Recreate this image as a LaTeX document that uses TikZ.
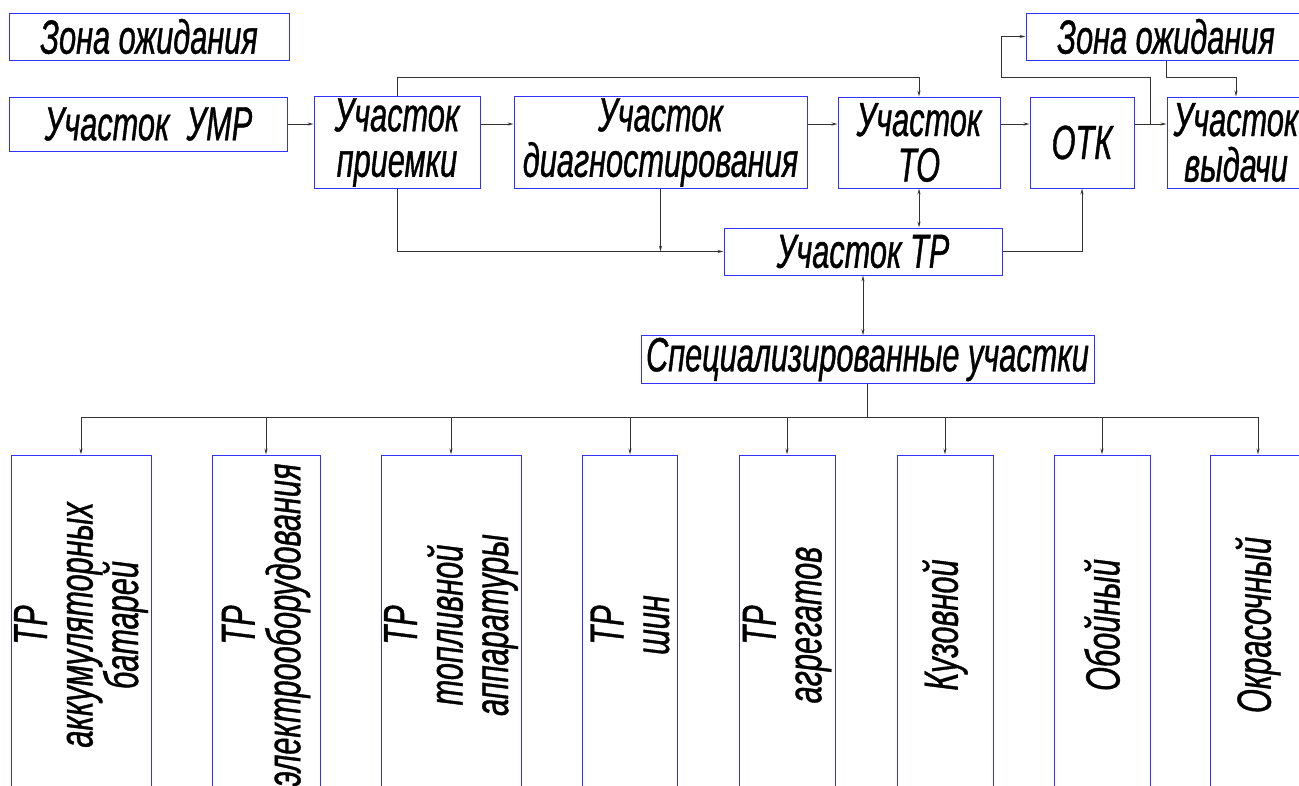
\documentclass[tikz,border=0pt]{standalone}
\usepackage{fontspec}
\newfontfamily\gost{Liberation Sans}[FakeStretch=0.64,FakeBold=0.8]
\usetikzlibrary{arrows.meta}
\definecolor{frameblue}{RGB}{50,50,255}
\tikzset{
  blk/.style={draw=frameblue,line width=1pt,inner sep=2pt,align=center,
    font=\gost\itshape\fontsize{48}{45.5}\selectfont},
  col/.style={blk,rotate=90,minimum width=340pt,minimum height=#1},
  lnk/.style={draw=black!80,line width=0.9pt}
}
\begin{document}
\begin{tikzpicture}[x=1pt,y=-1pt,>={Stealth[length=6pt,width=3pt]}]
\clip(0,0)rectangle(1299,785);
\node[blk,minimum width=280pt,minimum height=47pt](zonaL)at(149,36.5){Зона ожидания};
\node[blk,minimum width=280pt,minimum height=47pt](zonaR)at(1166,36.5){Зона ожидания};
\node[blk,minimum width=278pt,minimum height=54pt](umr)at(148.5,124){Участок\ \ УМР};
\node[blk,minimum width=166pt,minimum height=91pt](priem)at(397,142.5){Участок\\приемки};
\node[blk,minimum width=293pt,minimum height=91pt](diag)at(660.5,142.5){Участок\\диагностирования};
\node[blk,minimum width=162pt,minimum height=91pt](to)at(919,142.5){Участок\\ТО};
\node[blk,minimum width=104pt,minimum height=91pt](otk)at(1082,142.5){ОТК};
\node[blk,minimum width=138pt,minimum height=91pt](vyd)at(1236,142.5){Участок\\выдачи};
\node[blk,minimum width=278pt,minimum height=47pt](tr)at(863,251.5){Участок ТР};
\node[blk,minimum width=453pt,minimum height=47pt](spec)at(867.5,359.5){Специализированные участки};
\node[col=140pt](b1)at(81,625){ТР\\аккумуляторных\\батарей};
\node[col=108pt](b2)at(266,625){ТР\\электрооборудования};
\node[col=140pt](b3)at(451,625){ТР\\топливной\\аппаратуры};
\node[col=95pt](b4)at(630,625){ТР\\шин};
\node[col=96pt](b5)at(787,625){ТР\\агрегатов};
\node[col=96pt](b6)at(945,625){Кузовной};
\node[col=96pt](b7)at(1102,625){Обойный};
\node[col=96pt](b8)at(1258,625){Окрасочный};
\coordinate(lane)at(0,124);
\coordinate(top)at(0,77);
\coordinate(bus)at(0,417);
\coordinate(split)at(1150,124);
\coordinate(bend)at(1001,77);
\draw[lnk,->](umr.east)--(priem.west|-lane);
\draw[lnk,->](priem.east|-lane)--(diag.west|-lane);
\draw[lnk,->](diag.east|-lane)--(to.west|-lane);
\draw[lnk,->](to.east|-lane)--(otk.west|-lane);
\draw[lnk,->](otk.east|-lane)--(vyd.west|-lane);
\draw[lnk,->](priem.north)--(priem.north|-top)-|(to.north);
\draw[lnk,->](priem.south)|-(tr.west);
\draw[lnk,->](diag.south)--(diag.south|-tr.west);
\draw[lnk,<->](to.south)--(to.south|-tr.north);
\draw[lnk,->](tr.east)-|(otk.south);
\draw[lnk,<->](tr.south)--(tr.south|-spec.north);
\draw[lnk,->](split)|-(bend)|-(zonaR.west);
\draw[lnk,->](zonaR.south)--(zonaR.south|-top)-|(vyd.north);
\draw[lnk](spec.south)--(spec.south|-bus);
\draw[lnk](b1.east|-bus)--(b8.east|-bus);
\foreach \i in {1,...,8}\draw[lnk,->](b\i.east|-bus)--(b\i.east);
\end{tikzpicture}
\end{document}
